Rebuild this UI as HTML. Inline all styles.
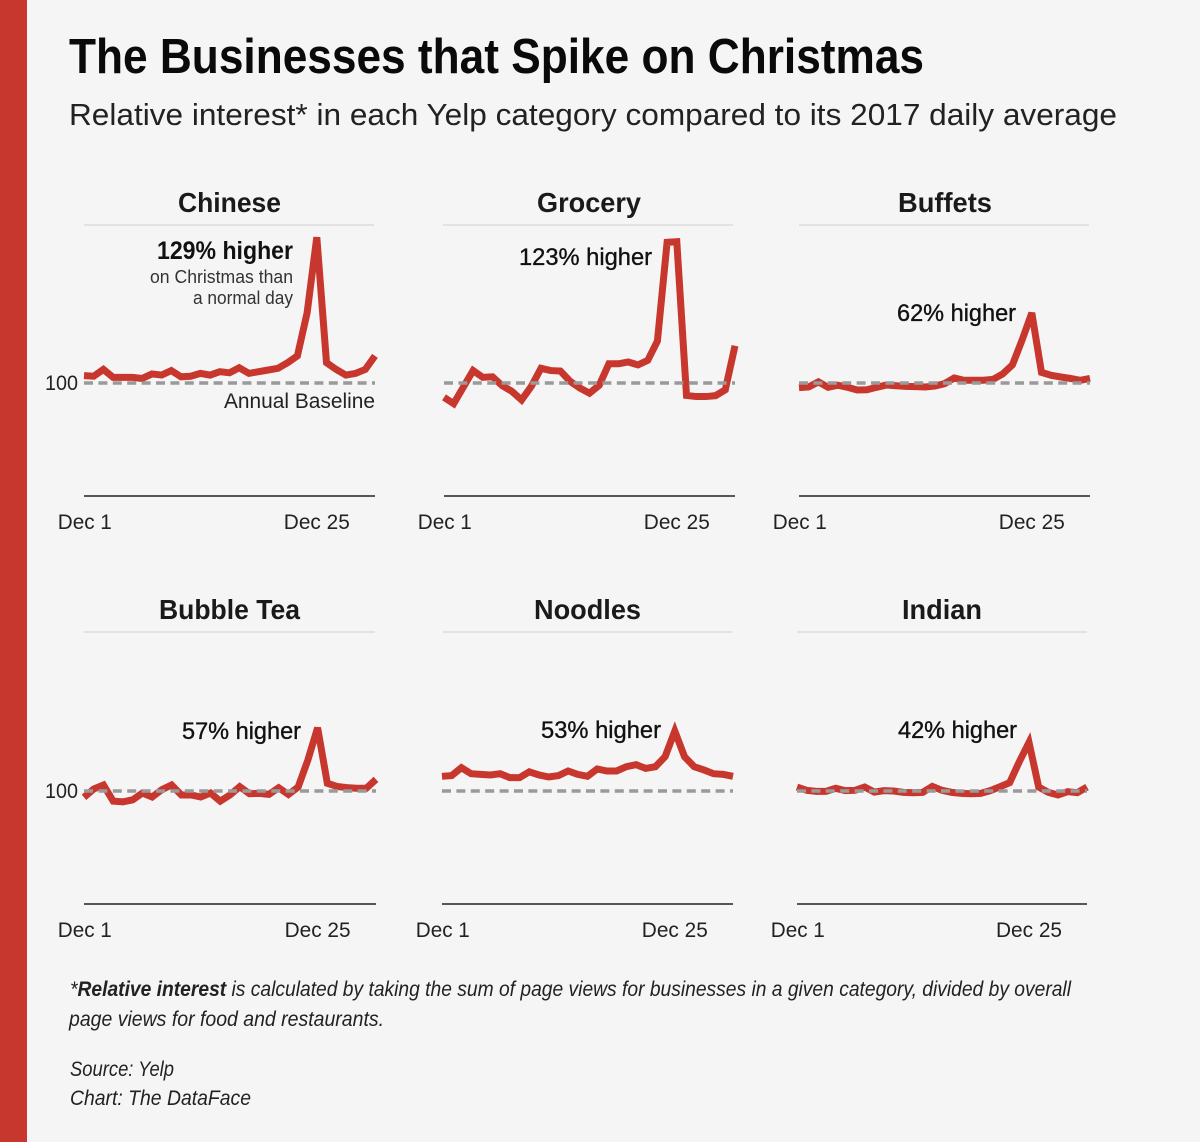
<!DOCTYPE html>
<html lang="en">
<head>
<meta charset="utf-8">
<title>The Businesses that Spike on Christmas</title>
<style>
  html, body { margin: 0; padding: 0; background: #f5f5f5; }
  svg { display: block; }
  text { font-family: "Liberation Sans", sans-serif; fill: #111; }
  .title { font-size: 49px; font-weight: 700; fill: #0a0a0a; }
  .subtitle { font-size: 31px; fill: #222; }
  .panel-title { font-size: 27.5px; font-weight: 700; fill: #1a1a1a; text-anchor: middle; stroke: none; }
  .callout { font-size: 24px; stroke: #111; stroke-width: 0.35px; }
  .callout-bold { font-size: 25px; font-weight: 700; }
  .note { font-size: 18.5px; fill: #333; text-anchor: end; }
  .axis-label { font-size: 21px; fill: #222; }
  .foot { font-size: 21px; font-style: italic; fill: #222; }
</style>
</head>
<body>
<svg id="chart" xmlns="http://www.w3.org/2000/svg" width="1200" height="1142" viewBox="0 0 1200 1142">
  <rect x="0" y="0" width="1200" height="1142" fill="#f5f5f5"/>
  <rect x="0" y="0" width="27" height="1142" fill="#c8372d"/>

  <text class="title" x="69" y="73" textLength="855" lengthAdjust="spacingAndGlyphs">The Businesses that Spike on Christmas</text>
  <text class="subtitle" x="69" y="125" textLength="1048" lengthAdjust="spacingAndGlyphs">Relative interest* in each Yelp category compared to its 2017 daily average</text>

  <g id="panels"></g>

  <g>
    <text class="panel-title" x="229.5" y="212" textLength="103" lengthAdjust="spacingAndGlyphs">Chinese</text>
    <text class="panel-title" x="589" y="212" textLength="104" lengthAdjust="spacingAndGlyphs">Grocery</text>
    <text class="panel-title" x="945" y="212" textLength="94" lengthAdjust="spacingAndGlyphs">Buffets</text>
    <text class="panel-title" x="229.5" y="619" textLength="141" lengthAdjust="spacingAndGlyphs">Bubble Tea</text>
    <text class="panel-title" x="587.5" y="619" textLength="107" lengthAdjust="spacingAndGlyphs">Noodles</text>
    <text class="panel-title" x="942" y="619" textLength="80" lengthAdjust="spacingAndGlyphs">Indian</text>
  </g>

  <g>
    <text class="callout-bold" x="157" y="259" textLength="136" lengthAdjust="spacingAndGlyphs">129% higher</text>
    <text class="note" x="293" y="283" textLength="143" lengthAdjust="spacingAndGlyphs">on Christmas than</text>
    <text class="note" x="293" y="304" textLength="100" lengthAdjust="spacingAndGlyphs">a normal day</text>
    <text class="callout" x="519" y="265" textLength="133" lengthAdjust="spacingAndGlyphs">123% higher</text>
    <text class="callout" x="897" y="321" textLength="119" lengthAdjust="spacingAndGlyphs">62% higher</text>
    <text class="callout" x="182" y="739" textLength="119" lengthAdjust="spacingAndGlyphs">57% higher</text>
    <text class="callout" x="541" y="738" textLength="120" lengthAdjust="spacingAndGlyphs">53% higher</text>
    <text class="callout" x="898" y="738" textLength="119" lengthAdjust="spacingAndGlyphs">42% higher</text>
    <text class="axis-label" x="224" y="408" textLength="151" lengthAdjust="spacingAndGlyphs">Annual Baseline</text>
  </g>

  <g>
    <text class="foot" x="70" y="996" textLength="1001" lengthAdjust="spacingAndGlyphs">*<tspan font-weight="700">Relative interest</tspan> is calculated by taking the sum of page views for businesses in a given category, divided by overall</text>
    <text class="foot" x="69" y="1026" textLength="315" lengthAdjust="spacingAndGlyphs">page views for food and restaurants.</text>
    <text class="foot" x="70" y="1076" textLength="104" lengthAdjust="spacingAndGlyphs">Source: Yelp</text>
    <text class="foot" x="70" y="1105" textLength="181" lengthAdjust="spacingAndGlyphs">Chart: The DataFace</text>
  </g>
</svg>

<script>
// Relative interest for each day of December (index 0 = Dec 1, 100 = annual average)
const chineseValues = [106.5,106,112,105,105,105,104,108,107,111,105.5,106,108.5,107,110,109,113.5,108.5,110,111.5,113,118,124,162,229,118,112,107,108.5,112,124];
const groceryValues = [87.3,81.7,96.5,111,105,105.5,97.6,92.6,85,97,113,111,110.6,101.5,95.6,91,98,117,117,118.6,116,120,137,224.5,225,89,88,88,88.8,94,133];
const buffetsValues = [95.9,96.5,101,96.2,98,96.2,93.8,94,96.2,98.2,97.6,97,96.8,96.5,97.3,99.4,104.4,102.4,102.4,102.4,103.2,108,116,138,162,109.4,106.8,105.3,104,102.4,104];
const bubbleTeaValues = [94.4,101.8,105.3,91,90.4,92.2,98.2,94.7,101.2,105.3,96.5,96.5,94.7,98.2,91,96.5,103.8,97.6,97.9,97,102.9,97,103.5,127.4,156,106.8,104,103,102.4,102.4,110.3];
const noodlesValues = [113,113.6,120.6,115.3,114.7,114.2,115.3,111.8,111.8,117,114.2,112.4,113.6,117.7,114.7,113,119.5,117.7,117.7,121.5,123.3,120,121.5,130.4,153,130.4,121.5,118.6,115.3,114.7,113];
const indianValues = [103.5,100.6,99.7,99.7,102.4,100.3,100.6,103.5,99,100.3,100,98.8,98.5,98.8,104.1,100.6,98.8,97.9,97.6,97.9,100.3,103.8,107.4,126,143,103.5,98.8,96.5,99.4,98.5,103.5];

const tickDays = [1, 25];
const tickLabels = ["Dec 1", "Dec 25"];
const baselineValue = 100;
const baselineLabel = "100";

const SVG_NS = "http://www.w3.org/2000/svg";
const PX_PER_UNIT = 1.13;
const DAY_COUNT = 31;
const panelsLayer = document.getElementById("panels");

function shape(tag, parent, props) {
  const node = document.createElementNS(SVG_NS, tag);
  for (const key in props) node.setAttribute(key, props[key]);
  parent.appendChild(node);
  return node;
}

function drawPanel(slug, values, layout) {
  const xScale = function (dayIndex) {
    return layout.left + dayIndex * (layout.right - layout.left) / (DAY_COUNT - 1);
  };
  const yScale = function (value) {
    return layout.zeroY - value * PX_PER_UNIT;
  };

  const group = shape("g", panelsLayer, {});
  
  

  const rule = shape("line", group, { x1: layout.ruleLeft, x2: layout.ruleRight, y1: layout.ruleY, y2: layout.ruleY, stroke: "#dcdcdc", "stroke-width": 1.5 });
  
  

  const axis = shape("line", group, { x1: layout.left, x2: layout.right, y1: layout.zeroY, y2: layout.zeroY, stroke: "#222", "stroke-width": 1.5 });
  
  

  const points = values.map(function (value, i) {
    return xScale(i).toFixed(2) + "," + yScale(value).toFixed(2);
  }).join(" ");
  const line = shape("polyline", group, { points: points, fill: "none", stroke: "#c8372d", "stroke-width": 7, "stroke-linejoin": "miter", "stroke-miterlimit": 3 });
  
  

  const base = shape("line", group, { x1: layout.left, x2: layout.right, y1: yScale(baselineValue), y2: yScale(baselineValue), stroke: "#9a9a9a", "stroke-width": 3.5, "stroke-dasharray": "9 5.4" });
  
  

  tickDays.forEach(function (day, i) {
    const tick = shape("text", group, { x: xScale(day - 1) + (i === 0 ? 0.8 : 0), y: layout.zeroY + 33, "text-anchor": "middle", "class": "axis-label", textLength: i === 0 ? 54 : 66, lengthAdjust: "spacingAndGlyphs" });
    tick.textContent = tickLabels[i];
    
    
  });

  if (layout.showBaselineLabel) {
    const label = shape("text", group, { x: 78, y: yScale(baselineValue) + 7, "text-anchor": "end", "class": "axis-label", textLength: 33, lengthAdjust: "spacingAndGlyphs" });
    label.textContent = baselineLabel;
    
    
  }
}

drawPanel("chinese", chineseValues, { left: 84, right: 375, zeroY: 496, ruleLeft: 84, ruleRight: 374, ruleY: 225, showBaselineLabel: true });
drawPanel("grocery", groceryValues, { left: 444, right: 735, zeroY: 496, ruleLeft: 443, ruleRight: 733, ruleY: 225, showBaselineLabel: false });
drawPanel("buffets", buffetsValues, { left: 799, right: 1090, zeroY: 496, ruleLeft: 799, ruleRight: 1089, ruleY: 225, showBaselineLabel: false });
drawPanel("bubble-tea", bubbleTeaValues, { left: 84, right: 376, zeroY: 904, ruleLeft: 84, ruleRight: 375, ruleY: 632, showBaselineLabel: true });
drawPanel("noodles", noodlesValues, { left: 442, right: 733, zeroY: 904, ruleLeft: 443, ruleRight: 732, ruleY: 632, showBaselineLabel: false });
drawPanel("indian", indianValues, { left: 797, right: 1087, zeroY: 904, ruleLeft: 797, ruleRight: 1087, ruleY: 632, showBaselineLabel: false });
</script>
</body>
</html>
